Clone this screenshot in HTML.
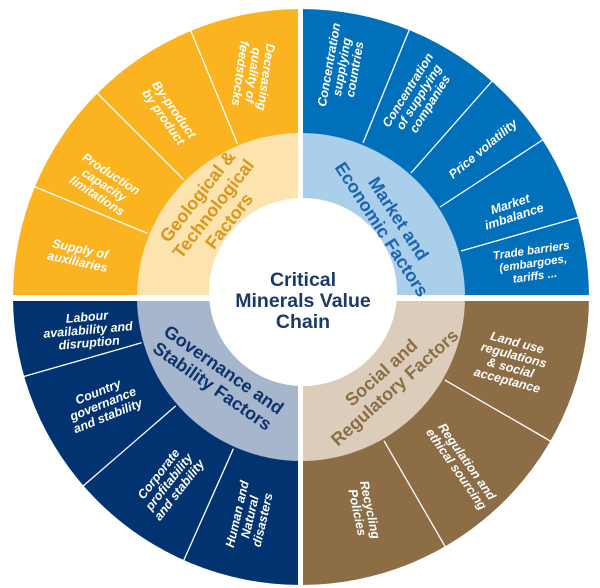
<!DOCTYPE html>
<html><head><meta charset="utf-8"><style>
html,body{margin:0;padding:0;background:#fff;}
svg{display:block;}
text{font-family:"Liberation Sans",sans-serif;font-weight:bold;}
.o{fill:#fff;font-size:12.5px;font-style:italic;}
.i{font-size:18px;}
</style></head><body>
<svg width="600" height="588" viewBox="0 0 600 588" xmlns="http://www.w3.org/2000/svg">
<defs>
<clipPath id="outer"><rect x="12" y="0" width="577" height="588"/></clipPath>
<clipPath id="c1"><circle cx="301" cy="297" r="288"/></clipPath>
<clipPath id="c2"><circle cx="301" cy="297" r="164"/></clipPath>
</defs>
<g clip-path="url(#outer)">
<g clip-path="url(#c1)">
<rect x="0" y="0" width="301" height="297" fill="#FBB41F"/>
<rect x="301" y="0" width="299" height="297" fill="#0070BA"/>
<rect x="0" y="297" width="301" height="291" fill="#003370"/>
<rect x="301" y="297" width="299" height="291" fill="#8C6D46"/>
</g>
</g>
<g clip-path="url(#c2)">
<rect x="0" y="0" width="301" height="297" fill="#FDE3AE"/>
<rect x="301" y="0" width="299" height="297" fill="#A9CFEA"/>
<rect x="0" y="297" width="301" height="291" fill="#A5B6CD"/>
<rect x="301" y="297" width="299" height="291" fill="#DCCDBB"/>
</g>
<g stroke="#fff" stroke-width="1.3">
<line x1="237.4" y1="143.6" x2="190" y2="29"/>
<line x1="183.6" y1="179.6" x2="96" y2="92"/>
<line x1="147.6" y1="233.4" x2="33" y2="186"/>
<line x1="363" y1="143" x2="410" y2="28"/>
<line x1="411" y1="173" x2="493" y2="80"/>
<line x1="440" y1="207" x2="544" y2="139"/>
<line x1="461" y1="251" x2="580" y2="217"/>
<line x1="141.5" y1="342.8" x2="22" y2="377"/>
<line x1="175.7" y1="405.9" x2="82" y2="487"/>
<line x1="233.4" y1="448.7" x2="183" y2="562"/>
<line x1="444.8" y1="380" x2="552" y2="442"/>
<line x1="384" y1="440.8" x2="446" y2="548"/>
</g>
<circle cx="303" cy="292" r="94" fill="#fff"/>
<rect x="298" y="0" width="5" height="588" fill="#fff"/>
<rect x="0" y="295" width="600" height="6" fill="#fff"/>

<g fill="#1B3A6B" font-size="19.5" text-anchor="middle">
<text x="303" y="286">Critical</text>
<text x="303" y="307">Minerals Value</text>
<text x="303" y="328">Chain</text>
</g>

<!-- inner labels -->
<g class="i" fill="#D9971C" text-anchor="middle" transform="translate(215,210) rotate(-52)">
<text x="0" y="-16">Geological &amp;</text><text x="0" y="4">Technological</text><text x="0" y="24">Factors</text>
</g>
<g class="i" fill="#1E63AE" text-anchor="middle" transform="translate(390,224) rotate(57)">
<text x="0" y="-4">Market and</text><text x="0" y="16">Economic Factors</text>
</g>
<g class="i" fill="#0E326C" text-anchor="middle" transform="translate(218,378) rotate(35)">
<text x="0" y="-4">Governance and</text><text x="0" y="16">Stability Factors</text>
</g>
<g class="i" fill="#8C6D46" text-anchor="middle" transform="translate(388,380) rotate(-42)">
<text x="0" y="-4">Social and</text><text x="0" y="16">Regulatory Factors</text>
</g>

<g class="o" text-anchor="middle">
<!-- yellow -->
<g transform="translate(252,75) rotate(98)"><text y="-10">Decreasing</text><text y="3">quality of</text><text y="16">feedstocks</text></g>
<g transform="translate(169,113) rotate(55)"><text y="-2">By-product</text><text y="11">by product</text></g>
<g transform="translate(104,185) rotate(33)"><text y="-9">Production</text><text y="4">capacity</text><text y="17">limitations</text></g>
<g transform="translate(79,255) rotate(12)"><text y="-2">Supply of</text><text y="11">auxiliaries</text></g>
<!-- blue -->
<g transform="translate(342,67) rotate(-80)"><text y="-9">Concentration</text><text y="4">supplying</text><text y="17">countries</text></g>
<g transform="translate(419,97) rotate(-58)"><text y="-9">Concentration</text><text y="4">of supplying</text><text y="17">companies</text></g>
<g transform="translate(483,149) rotate(-40)"><text y="4">Price volatility</text></g>
<g transform="translate(512,210) rotate(-18)"><text y="-2">Market</text><text y="11">imbalance</text></g>
<g transform="translate(533,263) rotate(-8)" font-size="11.5"><text y="-9">Trade barriers</text><text y="4">(embargoes,</text><text y="17">tariffs ...</text></g>
<!-- navy -->
<g transform="translate(88,330) rotate(-5)"><text y="-9">Labour</text><text y="4">availability and</text><text y="17">disruption</text></g>
<g transform="translate(103,404) rotate(-22)"><text y="-9">Country</text><text y="4">governance</text><text y="17">and stability</text></g>
<g transform="translate(169,482) rotate(-52)"><text y="-9">Corporate</text><text y="4">profitability</text><text y="17">and stability</text></g>
<g transform="translate(250,517) rotate(-77)"><text y="-9">Human and</text><text y="4">Natural</text><text y="17">disasters</text></g>
<!-- brown -->
<g transform="translate(512,362) rotate(15)"><text y="-16">Land use</text><text y="-3">regulations</text><text y="10">&amp; social</text><text y="23">acceptance</text></g>
<g transform="translate(462,465) rotate(55)"><text y="-2">Regulation and</text><text y="11">ethical sourcing</text></g>
<g transform="translate(364,511) rotate(78)"><text y="-2">Recycling</text><text y="11">Policies</text></g>
</g>
</svg>
</body></html>
